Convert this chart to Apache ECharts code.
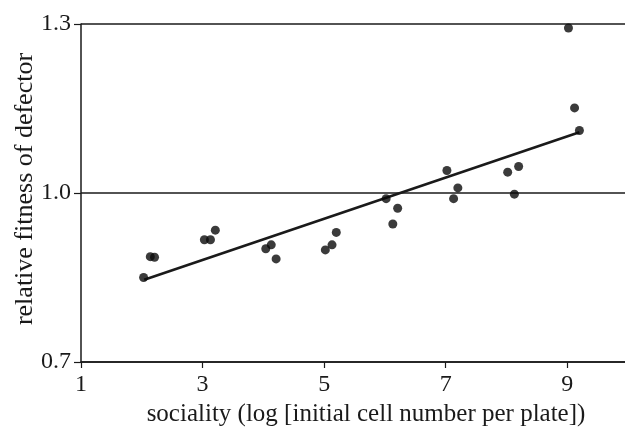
<!DOCTYPE html>
<html>
<head>
<meta charset="utf-8">
<script src="https://cdn.jsdelivr.net/npm/echarts@6/dist/echarts.min.js"></script>
<style>
  html, body { margin: 0; padding: 0; background: #fff; }
  #chart { width: 625px; height: 429px; }
</style>
</head>
<body>
<div id="chart"></div>
<script>
// sociality (log initial cell number) and relative fitness of defector
var sociality = [2.03, 2.14, 2.21, 3.03, 3.13, 3.21, 4.04, 4.13, 4.21, 5.02, 5.13, 5.20,
                 6.02, 6.13, 6.21, 7.02, 7.13, 7.20, 8.02, 8.13, 8.20, 9.02, 9.12, 9.20];
var fitness = [0.850, 0.887, 0.886, 0.917, 0.917, 0.934, 0.901, 0.908, 0.883, 0.899, 0.908, 0.930,
               0.990, 0.945, 0.973, 1.040, 0.990, 1.009, 1.037, 0.998, 1.047, 1.293, 1.151, 1.111];
// fitted line end points
var fitX = [2.04, 9.20];
var fitY = [0.846, 1.108];
var xTicks = [1, 3, 5, 7, 9];
var yTicks = [0.7, 1.0, 1.3];

var ink = '#1a1a1a';
var serif = '"Liberation Serif", "DejaVu Serif", serif';

var points = [];
for (var i = 0; i < sociality.length; i++) {
    points.push([sociality[i], fitness[i]]);
}
var fit = [];
for (var j = 0; j < fitX.length; j++) {
    fit.push([fitX[j], fitY[j]]);
}

var myChart = echarts.init(document.getElementById('chart'));
var option = {
    animation: false,
    backgroundColor: '#fff',
    grid: { left: 81, right: 0, top: 24, bottom: 67 },
    xAxis: {
        type: 'value',
        min: 1,
        max: 9.95,
        interval: 2,
        axisLine: { show: true, lineStyle: { color: ink, width: 1.5 } },
        axisTick: { show: true, length: 6, lineStyle: { color: ink, width: 1.2 } },
        axisLabel: {
            show: true, showMaxLabel: false, margin: 11,
            color: ink, fontFamily: serif, fontSize: 24,
            formatter: function (v) { return xTicks.indexOf(v) >= 0 ? String(v) : ''; }
        },
        splitLine: { show: false }
    },
    yAxis: {
        type: 'value',
        min: 0.7,
        max: 1.3,
        interval: 0.3,
        axisLine: { show: true, lineStyle: { color: ink, width: 1.5 } },
        axisTick: { show: true, length: 7, lineStyle: { color: ink, width: 1.2 } },
        axisLabel: {
            color: ink, fontFamily: serif, fontSize: 24, margin: 10,
            formatter: function (v) { return yTicks.indexOf(Math.round(v * 10) / 10) >= 0 ? v.toFixed(1) : ''; }
        },
        splitLine: { show: true, lineStyle: { color: ink, width: 1.5 } }
    },
    graphic: [
        {
            type: 'text', x: 366, y: 414,
            style: {
                text: 'sociality (log [initial cell number per plate])',
                font: '25px ' + serif, fill: ink,
                textAlign: 'center', textVerticalAlign: 'middle'
            }
        },
        {
            type: 'text', x: 25, y: 189, rotation: Math.PI / 2,
            style: {
                text: 'relative fitness of defector',
                font: '26px ' + serif, fill: ink,
                textAlign: 'center', textVerticalAlign: 'middle'
            }
        }
    ],
    series: [
        {
            name: 'fit',
            type: 'line',
            data: fit,
            symbol: 'none',
            lineStyle: { color: ink, width: 2.6 },
            z: 2
        },
        {
            name: 'defector',
            type: 'scatter',
            data: points,
            symbol: 'circle',
            symbolSize: 9,
            itemStyle: { color: '#0a0a0a' },
            z: 3
        }
    ]
};
myChart.setOption(option);
</script>
</body>
</html>
